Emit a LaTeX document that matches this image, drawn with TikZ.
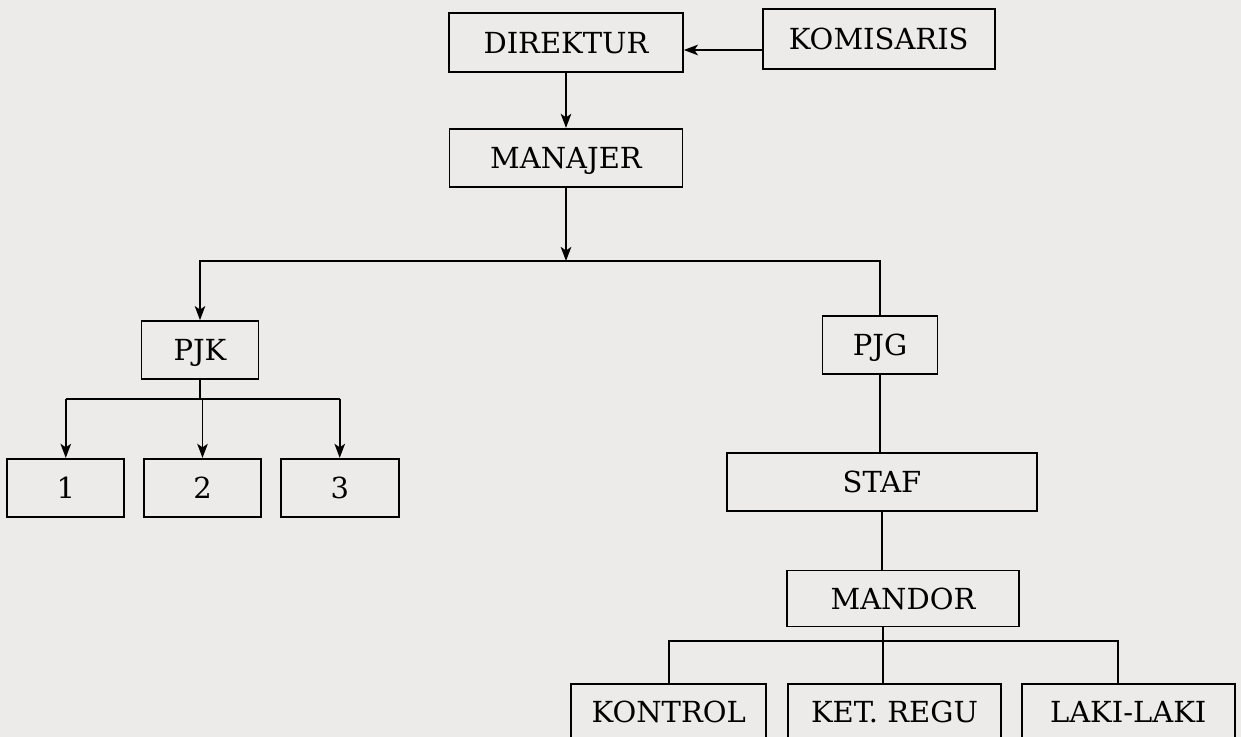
\documentclass[tikz,border=0pt]{standalone}
\usepackage{fontspec}
\setmainfont{DejaVu Serif}
\usepackage{tikz}
\usetikzlibrary{arrows.meta, positioning}
\definecolor{paper}{RGB}{236,235,234}

\begin{document}
\begin{tikzpicture}[
  x=0.02cm, y=-0.02cm,
  node distance=1.1cm,
  unit/.style={draw, line width=1pt, inner sep=0pt, minimum height=1.16cm, text depth=0pt, font=\fontsize{16.5}{20}\selectfont},
  arrow/.style={-{Stealth[length=8pt, width=6pt, inset=2pt]}, line width=0.9pt},
  link/.style={line width=0.9pt}
]
  \fill[paper] (0,0) rectangle (1241,737);
  \useasboundingbox (0,0) rectangle (1241,737);

  % top
  \node[unit, minimum width=4.68cm, minimum height=1.18cm] (dir) at (566,42.5) {DIREKTUR};
  \node[unit, minimum width=4.64cm, minimum height=1.2cm, right=1.56cm of dir, yshift=0.07cm] (kom) {KOMISARIS};
  \node[unit, minimum width=4.66cm, below=1.1cm of dir] (man) {MANAJER};
  \coordinate (bus1) at (0,261);

  % left branch
  \node[unit, minimum width=2.34cm] (pjk) at (200,350) {PJK};
  \node[unit, minimum width=2.34cm, below=1.56cm of pjk, xshift=0.05cm] (b2) {2};
  \node[unit, minimum width=2.34cm, left=0.36cm of b2] (b1) {1};
  \node[unit, minimum width=2.36cm, right=0.36cm of b2] (b3) {3};
  \coordinate (bus2) at (0,399);

  % right branch
  \node[unit, minimum width=2.3cm] (pjg) at (880,345) {PJG};
  \node[unit, minimum width=6.2cm, below=1.54cm of pjg, xshift=0.04cm] (staf) {STAF};
  \node[unit, minimum width=4.64cm, minimum height=1.12cm, below=1.16cm of staf, xshift=0.42cm] (mandor) {MANDOR};
  \coordinate (bus3) at (883,641);
  \node[unit, minimum width=4.26cm, minimum height=1.12cm, below=1.12cm of mandor, xshift=-0.17cm] (ket) {KET. REGU};
  \node[unit, minimum width=3.9cm, minimum height=1.12cm, left=0.4cm of ket] (kontrol) {KONTROL};
  \node[unit, minimum width=4.26cm, minimum height=1.12cm, right=0.38cm of ket] (laki) {LAKI-LAKI};

  \coordinate (kom-in) at ([yshift=-0.22cm]kom.west);
  \coordinate (laki-in) at ([xshift=-0.21cm]laki.north);

  \draw[arrow] (kom-in) -- (kom-in -| dir.east);
  \draw[arrow] (dir) -- (dir |- man.north);
  \draw[arrow] (man) -- (man |- bus1);
  \draw[arrow] (pjg) |- (pjk |- bus1) -- (pjk);

  \draw[link] (pjk) -- (pjk |- bus2);
  \draw[link] (b1 |- bus2) -- (b3 |- bus2);
  \foreach \n in {b1,b2,b3}
    \draw[arrow] (\n |- bus2) -- (\n);

  \draw[link] (pjg) -- (pjg |- staf.north);
  \draw[link] (staf) -- (staf |- mandor.north);
  \draw[link] (bus3 |- mandor.south) -- (bus3) -- (bus3 |- ket.north);
  \draw[link] (kontrol) |- (laki-in |- bus3) -- (laki-in);
\end{tikzpicture}
\end{document}
